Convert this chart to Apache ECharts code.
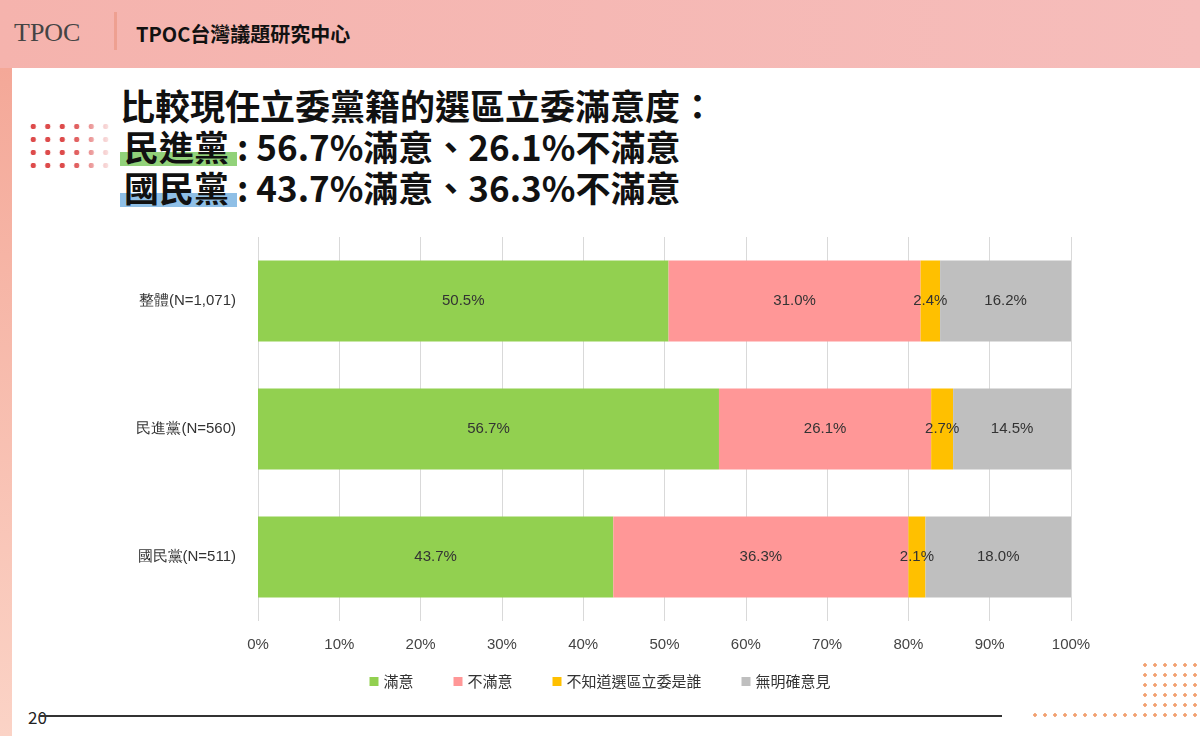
<!DOCTYPE html>
<html><head><meta charset="utf-8">
<script src="https://cdn.jsdelivr.net/npm/echarts@6/dist/echarts.min.js"></script>
<style>
body{margin:0;width:1200px;height:736px;position:relative;overflow:hidden;background:#fff;font-family:"Noto Sans CJK TC","Noto Sans",sans-serif}
#head{position:absolute;left:0;top:0;width:1200px;height:68px;background:linear-gradient(90deg,#f5b3ad,#f6bdbb)}
#side{position:absolute;left:0;top:68px;width:12px;height:668px;background:linear-gradient(#f4a898,#fbd3c6)}
#logo{position:absolute;left:14px;top:18px;font:26px "Liberation Serif",serif;color:#444}
#sep{position:absolute;left:114px;top:12px;width:3px;height:38px;background:#eea091}
#org{position:absolute;left:136px;top:19px;font-weight:bold;font-size:20px;color:#111}
#title{position:absolute;left:120px;top:84px;font-weight:bold;font-size:35px;line-height:41px;color:#111}
.hl{display:inline-block;padding:0 8px 0 4px;background-size:100% 14px;background-repeat:no-repeat;background-position:0 27px}
#dots{position:absolute;left:26px;top:120px;width:90px;height:48px;background:radial-gradient(circle,#dd4b4b 2.5px,transparent 3px) 0 0/14.5px 13px;-webkit-mask:linear-gradient(90deg,#000 50%,transparent)}
#dots2{position:absolute;left:1140px;top:660px;width:60px;height:52px;background:radial-gradient(circle,#f2a070 1.5px,transparent 2px) 0 0/10px 10px}
#dots3{position:absolute;left:1030px;top:710px;width:170px;height:10px;background:radial-gradient(circle,#f2a070 1.5px,transparent 2px) 0 0/10px 10px}
#pg{position:absolute;left:28px;top:704px;font-size:17px;color:#222}
#line{position:absolute;left:40px;top:715px;width:962px;height:2px;background:#333}
#chart{position:absolute;left:0;top:0;width:1200px;height:736px}
</style></head><body>
<div id="head"></div><div id="side"></div>
<div id="logo">TPOC</div><div id="sep"></div><div id="org">TPOC台灣議題研究中心</div>
<div id="title">比較現任立委黨籍的選區立委滿意度：<br><span class="hl" style="background-image:linear-gradient(#92d27a,#92d27a)">民進黨</span>: 56.7%滿意、26.1%不滿意<br><span class="hl" style="background-image:linear-gradient(#8fbfe6,#8fbfe6)">國民黨</span>: 43.7%滿意、36.3%不滿意</div>
<div id="dots"></div><div id="dots2"></div><div id="dots3"></div>
<div id="pg">20</div><div id="line"></div>
<div id="chart"></div>
<script>
const categories = ['整體(N=1,071)', '民進黨(N=560)', '國民黨(N=511)'];
const seriesNames = ['滿意', '不滿意', '不知道選區立委是誰', '無明確意見'];
const satisfied = [50.5, 56.7, 43.7];
const dissatisfied = [31.0, 26.1, 36.3];
const unknown = [2.4, 2.7, 2.1];
const noOpinion = [16.2, 14.5, 18.0];
const colors = ['#92d050', '#ff9797', '#ffc000', '#bfbfbf'];

const chart = echarts.init(document.getElementById('chart'));
const values = [satisfied, dissatisfied, unknown, noOpinion];
chart.setOption({
  animation: false,
  color: colors,
  grid: { left: 258, right: 129, top: 237, bottom: 115 },
  legend: {
    bottom: 42, left: 'center', itemWidth: 9, itemHeight: 9, itemGap: 40, icon: 'rect',
    textStyle: { fontSize: 15, color: '#333', fontFamily: 'Noto Sans CJK TC' }
  },
  xAxis: {
    type: 'value', min: 0, max: 100, interval: 10,
    axisLabel: { formatter: '{value}%', fontSize: 15, color: '#444', margin: 16 },
    axisLine: { show: false }, axisTick: { show: false },
    splitLine: { lineStyle: { color: '#d9d9d9' } }
  },
  yAxis: {
    type: 'category', data: categories, inverse: true,
    axisLabel: { fontSize: 15, color: '#333', margin: 22 },
    axisLine: { show: false }, axisTick: { show: false }
  },
  series: seriesNames.map((name, i) => ({
    name, type: 'bar', stack: 'all', barWidth: 81, data: values[i],
    label: { show: true, formatter: p => p.value.toFixed(1) + '%', fontSize: 15, color: '#333' }
  }))
});
</script>
</body></html>
